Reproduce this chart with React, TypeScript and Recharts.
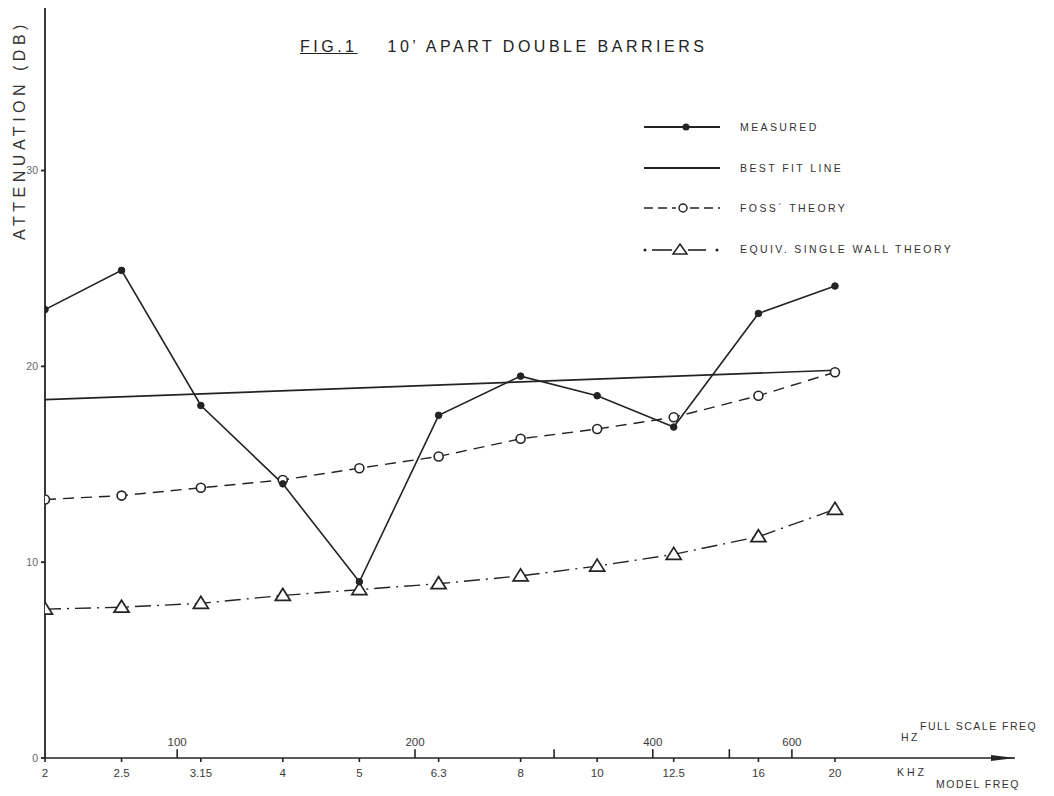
import { Line, LineChart, ReferenceDot, ReferenceLine, XAxis, YAxis } from "recharts";

// model frequency (kHz) – 1/3 octave bands
const MODEL_FREQ_KHZ = [2, 2.5, 3.15, 4, 5, 6.3, 8, 10, 12.5, 16, 20];
const MEASURED = [22.9, 24.9, 18.0, 14.0, 9.0, 17.5, 19.5, 18.5, 16.9, 22.7, 24.1];
const FOSS_THEORY = [13.2, 13.4, 13.8, 14.2, 14.8, 15.4, 16.3, 16.8, 17.4, 18.5, 19.7];
const SINGLE_WALL = [7.6, 7.7, 7.9, 8.3, 8.6, 8.9, 9.3, 9.8, 10.4, 11.3, 12.7];
const BEST_FIT = [
  { f: 2, db: 18.3 },
  { f: 20, db: 19.8 },
];
// full scale frequency (Hz) ticks, model is roughly 1:29.4 scale
const FULL_SCALE_HZ = [100, 200, 300, 400, 500, 600];
const FULL_SCALE_LABELS = ["100", "200", "", "400", "", "600"];
const MODEL_SCALE = 29.4;
const Y_TICKS = [0, 10, 20, 30];

const rows = MODEL_FREQ_KHZ.map((f, i) => ({
  f,
  measured: MEASURED[i],
  foss: FOSS_THEORY[i],
  single: SINGLE_WALL[i],
}));

const INK = "#232323";
const FONT = '"Liberation Sans", Arial, sans-serif';

const Triangle = (p: any) => {
  const { cx, cy, index } = p;
  if (cx == null || cy == null) return <g key={index} />;
  return (
    <path
      key={index}
      d={`M${cx},${cy - 7} L${cx + 7.5},${cy + 5} L${cx - 7.5},${cy + 5} Z`}
      fill="#fff"
      stroke={INK}
      strokeWidth={1.7}
    />
  );
};

const Arrow = (p: any) => {
  const { cx, cy } = p;
  if (cx == null) return <g />;
  return <path d={`M${cx - 24},${cy - 3} L${cx},${cy} L${cx - 24},${cy + 3} Z`} fill={INK} />;
};

function LegendSample({ kind }: { kind: string }) {
  return (
    <svg width={80} height={14} style={{ display: "block" }}>
      {kind === "measured" && (
        <>
          <line x1={2} y1={7} x2={78} y2={7} stroke={INK} strokeWidth={1.8} />
          <circle cx={44} cy={7} r={3.5} fill={INK} />
        </>
      )}
      {kind === "fit" && <line x1={2} y1={7} x2={78} y2={7} stroke={INK} strokeWidth={1.8} />}
      {kind === "foss" && (
        <>
          <line x1={2} y1={7} x2={34} y2={7} stroke={INK} strokeWidth={1.6} strokeDasharray="9 5" />
          <circle cx={41} cy={7} r={4} fill="#fff" stroke={INK} strokeWidth={1.5} />
          <line x1={48} y1={7} x2={78} y2={7} stroke={INK} strokeWidth={1.6} strokeDasharray="9 5" />
        </>
      )}
      {kind === "single" && (
        <>
          <circle cx={3} cy={8} r={1.5} fill={INK} />
          <line x1={10} y1={8} x2={30} y2={8} stroke={INK} strokeWidth={1.6} />
          <path d="M38,2 L45,12 L31,12 Z" fill="#fff" stroke={INK} strokeWidth={1.5} />
          <line x1={46} y1={8} x2={64} y2={8} stroke={INK} strokeWidth={1.6} />
          <circle cx={75} cy={8} r={1.5} fill={INK} />
        </>
      )}
    </svg>
  );
}

const LEGEND = [
  { kind: "measured", label: "MEASURED" },
  { kind: "fit", label: "BEST FIT LINE" },
  { kind: "foss", label: "FOSS\u00B4 THEORY" },
  { kind: "single", label: "EQUIV. SINGLE WALL THEORY" },
];

const small = { position: "absolute" as const, fontFamily: FONT, color: "#333", letterSpacing: 1.5, whiteSpace: "nowrap" as const };

export default function App() {
  return (
    <div style={{ position: "absolute", left: 0, top: 0, width: 1054, height: 796, background: "#fff", fontFamily: FONT, overflow: "hidden" }}>
      <LineChart width={1054} height={796} data={rows} margin={{ top: 8, right: 39, left: 0, bottom: 0 }}>
        <XAxis
          xAxisId="khz"
          dataKey="f"
          type="number"
          scale="log"
          domain={[2, 33.8]}
          ticks={MODEL_FREQ_KHZ}
          tickFormatter={(v) => String(v)}
          height={38}
          tickSize={4}
          tickMargin={7}
          stroke={INK}
          strokeWidth={1.6}
          tick={{ fontSize: 11.5, fill: "#3a3a3a", fontFamily: FONT }}
          allowDataOverflow
        />
        <YAxis
          yAxisId="db"
          type="number"
          domain={[0, 38.3]}
          ticks={Y_TICKS}
          width={45}
          tickSize={4}
          tickMargin={3}
          stroke={INK}
          strokeWidth={1.8}
          tick={{ fontSize: 10.5, fill: "#666", fontFamily: FONT }}
          allowDataOverflow
        />
        {FULL_SCALE_HZ.map((hz, i) => (
          <ReferenceLine
            key={hz}
            xAxisId="khz"
            yAxisId="db"
            segment={[
              { x: (hz * MODEL_SCALE) / 1000, y: 0 },
              { x: (hz * MODEL_SCALE) / 1000, y: 0.45 },
            ]}
            stroke={INK}
            strokeWidth={1.6}
            ifOverflow="visible"
            label={{ value: FULL_SCALE_LABELS[i], position: "top", offset: 3, fontSize: 11.5, fill: "#3a3a3a", fontFamily: FONT }}
          />
        ))}
        <ReferenceDot xAxisId="khz" yAxisId="db" x={33.8} y={0} shape={Arrow} ifOverflow="visible" />
        <Line
          xAxisId="khz"
          yAxisId="db"
          data={BEST_FIT}
          dataKey="db"
          type="linear"
          stroke={INK}
          strokeWidth={1.7}
          dot={false}
          isAnimationActive={false}
        />
        <Line
          xAxisId="khz"
          yAxisId="db"
          dataKey="single"
          type="linear"
          stroke={INK}
          strokeWidth={1.4}
          strokeDasharray="16 6 2 6"
          dot={Triangle}
          isAnimationActive={false}
        />
        <Line
          xAxisId="khz"
          yAxisId="db"
          dataKey="foss"
          type="linear"
          stroke={INK}
          strokeWidth={1.4}
          strokeDasharray="11 7"
          dot={{ r: 4.5, fill: "#fff", stroke: INK, strokeWidth: 1.6, strokeDasharray: "" }}
          isAnimationActive={false}
        />
        <Line
          xAxisId="khz"
          yAxisId="db"
          dataKey="measured"
          type="linear"
          stroke={INK}
          strokeWidth={1.6}
          dot={{ r: 3.3, fill: INK, stroke: INK, strokeWidth: 1 }}
          isAnimationActive={false}
        />
      </LineChart>

      {/* title */}
      <div style={{ ...small, left: 300, top: 38, fontSize: 16, letterSpacing: 3.5, color: "#222" }}>
        <span style={{ textDecoration: "underline" }}>FIG.1</span>
        <span style={{ marginLeft: 30 }}>10&#8217; APART DOUBLE BARRIERS</span>
      </div>

      {/* y axis title */}
      <div
        style={{
          ...small,
          left: 20,
          top: 130,
          fontSize: 16,
          letterSpacing: 4.5,
          transform: "translate(-50%, -50%) rotate(-90deg)",
          color: "#333",
        }}
      >
        ATTENUATION (DB)
      </div>

      {/* legend */}
      <div style={{ position: "absolute", left: 642, top: 107 }}>
        {LEGEND.map((l) => (
          <div key={l.kind} style={{ display: "flex", alignItems: "center", height: 40.5 }}>
            <LegendSample kind={l.kind} />
            <span style={{ marginLeft: 18, fontSize: 10.5, letterSpacing: 2.4, color: "#333", fontFamily: FONT, whiteSpace: "nowrap" }}>
              {l.label}
            </span>
          </div>
        ))}
      </div>

      {/* axis captions */}
      <div style={{ ...small, left: 920, top: 720, fontSize: 10.5 }}>FULL SCALE FREQ</div>
      <div style={{ ...small, left: 901, top: 731, fontSize: 10.5, letterSpacing: 2.5 }}>HZ</div>
      <div style={{ ...small, left: 897, top: 766, fontSize: 10.5, letterSpacing: 3 }}>KHZ</div>
      <div style={{ ...small, left: 936, top: 778, fontSize: 10.5 }}>MODEL FREQ</div>
    </div>
  );
}
